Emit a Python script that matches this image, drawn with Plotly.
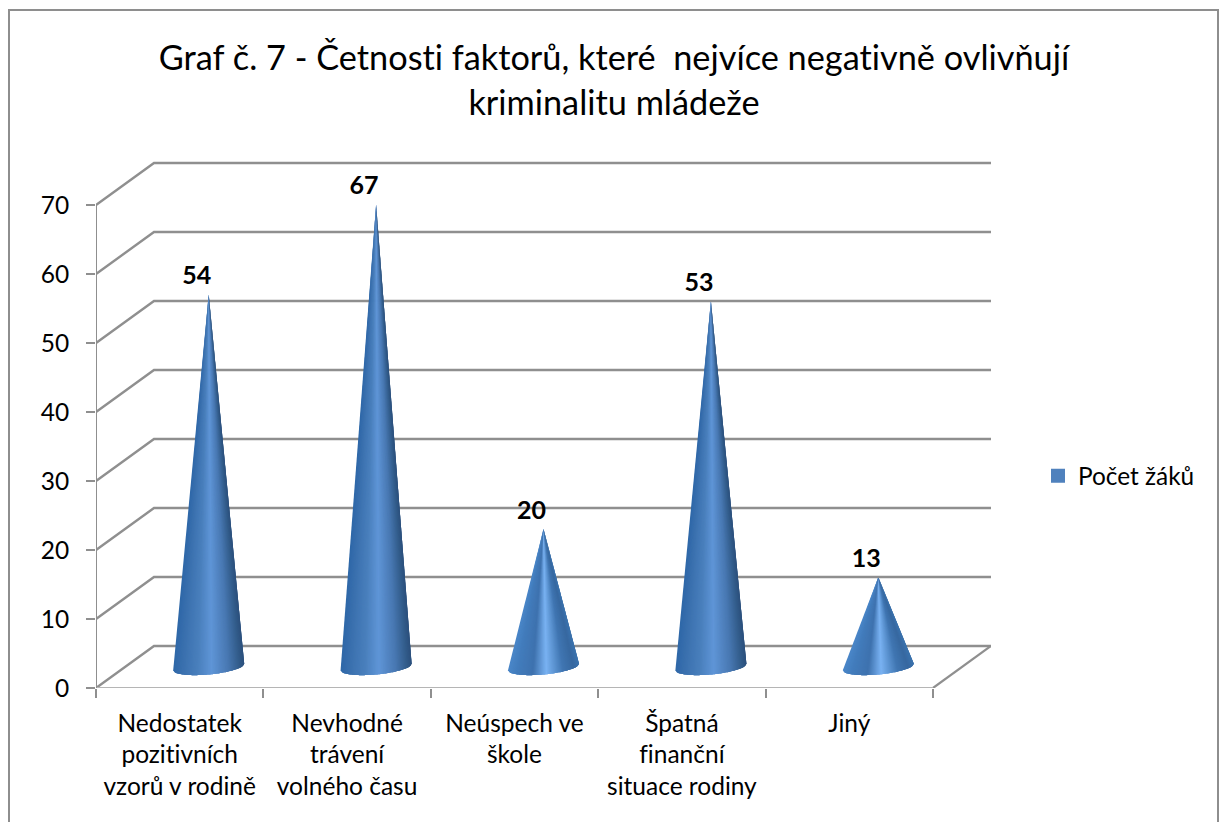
import numpy as np
import plotly.graph_objects as go

# ---- data ----
categories = ["Nedostatek<br>pozitivních<br>vzorů v rodině", "Nevhodné<br>trávení<br>volného času",
              "Neúspech ve<br>škole", "Špatná<br>finanční<br>situace rodiny", "Jiný"]
values = [54, 67, 20, 53, 13]
series_name = "Počet žáků"
title_text = "Graf č. 7 - Četnosti faktorů, které  nejvíce negativně ovlivňují<br>kriminalitu mládeže"
y_ticks = [0, 10, 20, 30, 40, 50, 60, 70]

# ---- page geometry ----
W, H = 1224, 822
L, R, T, B = 96, 991, 161, 688
PX_X = 167.4          # px per category
PX_Y = 6.9            # px per value unit
DX = (R - (L + 5 * PX_X)) / PX_X   # depth projection in x units
DY = (B - 646) / PX_Y              # depth projection in y units
FONT = "Lato"
GRID = "#8f8f8f"

x_max = (R - L) / PX_X
y_max = (B - T) / PX_Y

def px(xp): return (xp - L) / (R - L)
def py(yp): return (B - yp) / (B - T)

fig = go.Figure()

# walls: back-wall gridlines plus the diagonal on the side wall
gx, gy = [], []
for v in y_ticks:
    gx += [0, DX, x_max, None]
    gy += [v, v + DY, v + DY, None]
fig.add_trace(go.Scatter(x=gx, y=gy, mode="lines", line=dict(color=GRID, width=2.4),
                         showlegend=False, hoverinfo="skip", cliponaxis=False))
# floor right edge
fig.add_trace(go.Scatter(x=[5, x_max], y=[0, DY], mode="lines", line=dict(color=GRID, width=2.2),
                         showlegend=False, hoverinfo="skip", cliponaxis=False))
# front floor edge
fig.add_trace(go.Scatter(x=[0, 5], y=[0, 0], mode="lines", line=dict(color="#b5b5b5", width=2.2),
                         showlegend=False, hoverinfo="skip", cliponaxis=False))
# value axis line
fig.add_trace(go.Scatter(x=[0, 0], y=[0, y_ticks[-1]], mode="lines", line=dict(color=GRID, width=2),
                         showlegend=False, hoverinfo="skip", cliponaxis=False))

# ---- cones, drawn as overlapping strips fanning out from the apex ----
HALF_W = 35.5 / PX_X
HALF_H = 7.5 / PX_Y
TILT = 3.2 / PX_Y     # right side of base rises
N = 60

stops_t = [-1.0, -0.75, -0.3, 0.08, 0.55, 0.85, 1.0]
tall = np.array([[0x2E, 0x67, 0xA8], [0x3A, 0x70, 0xAE], [0x4A, 0x80, 0xBD], [0x5F, 0x95, 0xD7],
                 [0x48, 0x78, 0xB2], [0x33, 0x5D, 0x8C], [0x2B, 0x50, 0x7C]], float)
short = np.array([[0x4A, 0x86, 0xC8], [0x42, 0x7C, 0xBC], [0x3E, 0x72, 0xAE], [0x79, 0xB2, 0xF2],
                  [0x40, 0x76, 0xB2], [0x37, 0x68, 0xA0], [0x3A, 0x72, 0xAE]], float)

def colour(t, weight):
    rgb = [np.interp(t, stops_t, (tall * (1 - weight) + short * weight)[:, k]) for k in range(3)]
    return "rgb(%d,%d,%d)" % tuple(int(round(c)) for c in rgb)

edges = np.linspace(-1, 1, N + 1)

def rim(cx, t):
    return cx + HALF_W * t, DY / 2 + TILT * t - HALF_H * np.sqrt(max(0.0, 1 - t * t))

for i in range(N):
    t0 = edges[i]
    tm = (t0 + edges[i + 1]) / 2
    ts = edges[i:i + 4]
    for k, v in enumerate(values):
        cx = k + 0.5 + DX / 2
        weight = 1.0 if v <= 25 else 0.0
        pts = [rim(cx, t) for t in ts]
        xs = [cx] + [p[0] for p in pts] + [cx]
        ys = [v + DY / 2] + [p[1] for p in pts] + [v + DY / 2]
        fig.add_trace(go.Scatter(x=xs, y=ys, mode="none",
                                 fill="toself", fillcolor=colour(tm, weight),
                                 showlegend=False, hoverinfo="skip", cliponaxis=False))

# data labels
fig.add_trace(go.Scatter(
    x=[k + 0.5 + DX / 2 - 12 / PX_X for k in range(len(values))],
    y=[v + DY / 2 + 4 / PX_Y for v in values],
    mode="text", text=[str(v) for v in values], textposition="top center",
    textfont=dict(family=FONT, size=25, color="black", weight="bold"),
    showlegend=False, hoverinfo="skip", cliponaxis=False))

# legend entry
fig.add_trace(go.Scatter(x=[None], y=[None], mode="markers", name=series_name,
                         marker=dict(symbol="square", size=14, color="#4f81bd")))

fig.update_layout(
    width=W, height=H, autosize=False,
    margin=dict(l=L, r=W - R, t=T, b=H - B, pad=0),
    paper_bgcolor="white", plot_bgcolor="white",
    font=dict(family=FONT, size=24, color="black"),
    title=dict(text=title_text, x=614 / W, xref="container", xanchor="center",
               y=1 - 70 / H, yref="container", yanchor="top",
               font=dict(family=FONT, size=34.3, color="black")),
    xaxis=dict(range=[0, x_max], showgrid=False, zeroline=False, showline=False,
               tickmode="array", tickvals=[k + 0.5 for k in range(5)], ticktext=categories,
               ticks="", tickfont=dict(family=FONT, size=24.5), ticklabelstandoff=18,
               minor=dict(tickmode="array", tickvals=[0, 1, 2, 3, 4, 5], ticks="outside",
                          ticklen=9, tickwidth=2, tickcolor=GRID, showgrid=False)),
    yaxis=dict(range=[0, y_max], showgrid=False, zeroline=False, showline=False,
               tickmode="array", tickvals=y_ticks, ticks="outside", ticklen=9, tickwidth=2,
               tickcolor=GRID, tickfont=dict(family=FONT, size=24.5), ticklabelstandoff=12),
    legend=dict(x=px(1038), y=py(476), xref="paper", yref="paper", xanchor="left", yanchor="middle",
                font=dict(family=FONT, size=24.4), bgcolor="rgba(0,0,0,0)", itemwidth=30),
    shapes=[dict(type="path", xref="paper", yref="paper", layer="below",
                 path=f"M {px(9)} {py(830)} L {px(9)} {py(10)} L {px(1218)} {py(10)} L {px(1218)} {py(830)}",
                 line=dict(color="#8e8e8e", width=2))],
)

page_css = ("document.body.style.margin='0';"
            "var s=document.createElement('style');"
            "s.textContent='svg text{font-variant-ligatures:none !important;font-feature-settings:\"liga\" 0 !important}';"
            "document.head.appendChild(s);")
fig.write_html("out.html", post_script=page_css, config=dict(displayModeBar=False))
